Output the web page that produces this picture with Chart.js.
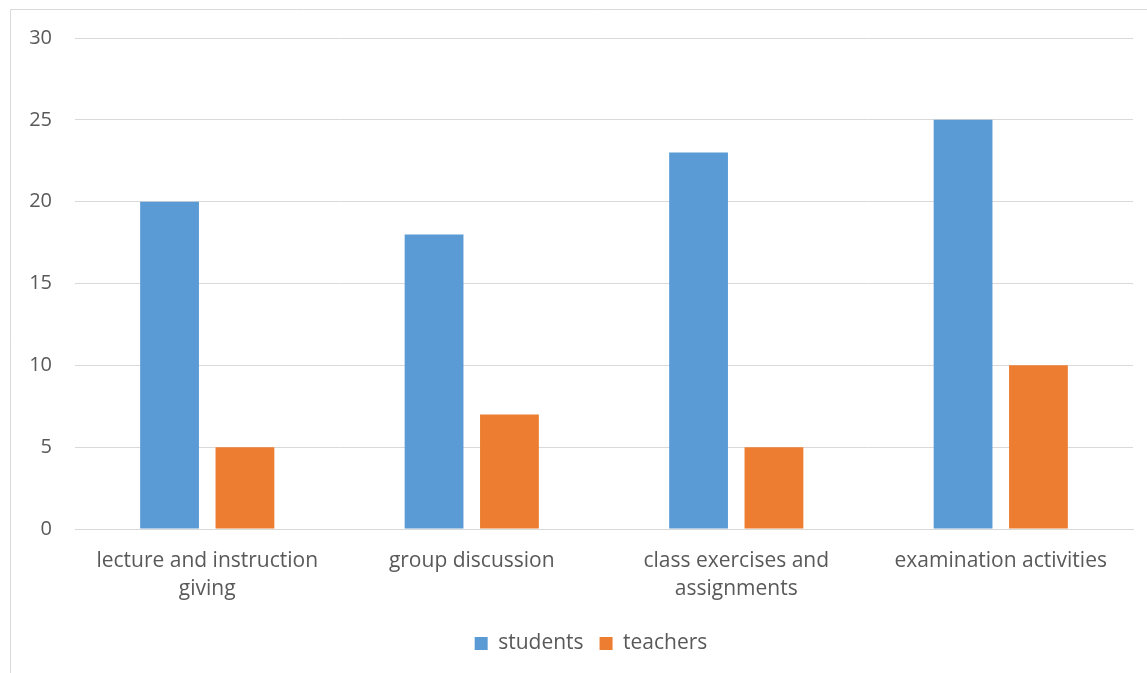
<!DOCTYPE html>
<html>
<head>
<meta charset="utf-8">
<script src="https://cdn.jsdelivr.net/npm/chart.js@4/dist/chart.umd.min.js"></script>
<style>
  html, body { margin: 0; padding: 0; background: #fff; overflow: hidden; }
  #wrap { position: absolute; left: 0; top: 0; width: 1182px; height: 673px; }
</style>
</head>
<body>
<div id="wrap"><canvas id="c"></canvas></div>
<script>
const categories = [
  ["lecture and instruction", "giving"],
  "group discussion",
  ["class exercises and", "assignments"],
  "examination activities"
];
const students = [20, 18, 23, 25];
const teachers = [5, 7, 5, 10];
const seriesNames = ["students", "teachers"];

const textColor = "#595959";
const gridColor = "#D9D9D9";
const fontFamily = "'Open Sans', Lato, sans-serif";

const borderPlugin = {
  id: "outerBorder",
  beforeDraw(chart) {
    const ctx = chart.ctx;
    ctx.save();
    ctx.strokeStyle = "#D9D9D9";
    ctx.lineWidth = 1;
    ctx.beginPath();
    ctx.moveTo(10.5, 673);
    ctx.lineTo(10.5, 9.5);
    ctx.lineTo(chart.width, 9.5);
    ctx.stroke();
    ctx.restore();
  },
  afterLayout(chart) {
    if (chart.legend) {
      chart.legend.left += 24.5;
      chart.legend.right += 24.5;
    }
  }
};

new Chart(document.getElementById("c"), {
  type: "bar",
  data: {
    labels: categories,
    datasets: [
      { label: seriesNames[0], data: students, backgroundColor: "#5B9BD5" },
      { label: seriesNames[1], data: teachers, backgroundColor: "#ED7D31" }
    ]
  },
  options: {
    responsive: true,
    maintainAspectRatio: false,
    animation: false,
    devicePixelRatio: 1,
    categoryPercentage: 0.57,
    barPercentage: 0.78,
    layout: { padding: { left: 0, right: 49, top: 38, bottom: 9 } },
    plugins: {
      legend: {
        position: "bottom",
        labels: {
          color: textColor,
          font: { family: fontFamily, size: 21 },
          boxWidth: 13,
          boxHeight: 13,
          padding: 16
        }
      },
      tooltip: { enabled: false }
    },
    scales: {
      x: {
        grid: { display: false, drawTicks: false },
        border: { color: gridColor, width: 1 },
        ticks: {
          color: textColor,
          font: { family: fontFamily, size: 21, lineHeight: 1.38 },
          padding: 17,
          maxRotation: 0,
          autoSkip: false
        },
        afterFit(scale) { scale.height = scale.height - 4; }
      },
      y: {
        min: 0,
        max: 30,
        ticks: {
          stepSize: 5,
          color: textColor,
          font: { family: fontFamily, size: 20 },
          padding: 23
        },
        grid: { color: gridColor, drawTicks: false },
        border: { display: false },
        afterFit(scale) { scale.width = 75; }
      }
    }
  },
  plugins: [borderPlugin]
});
</script>
</body>
</html>
